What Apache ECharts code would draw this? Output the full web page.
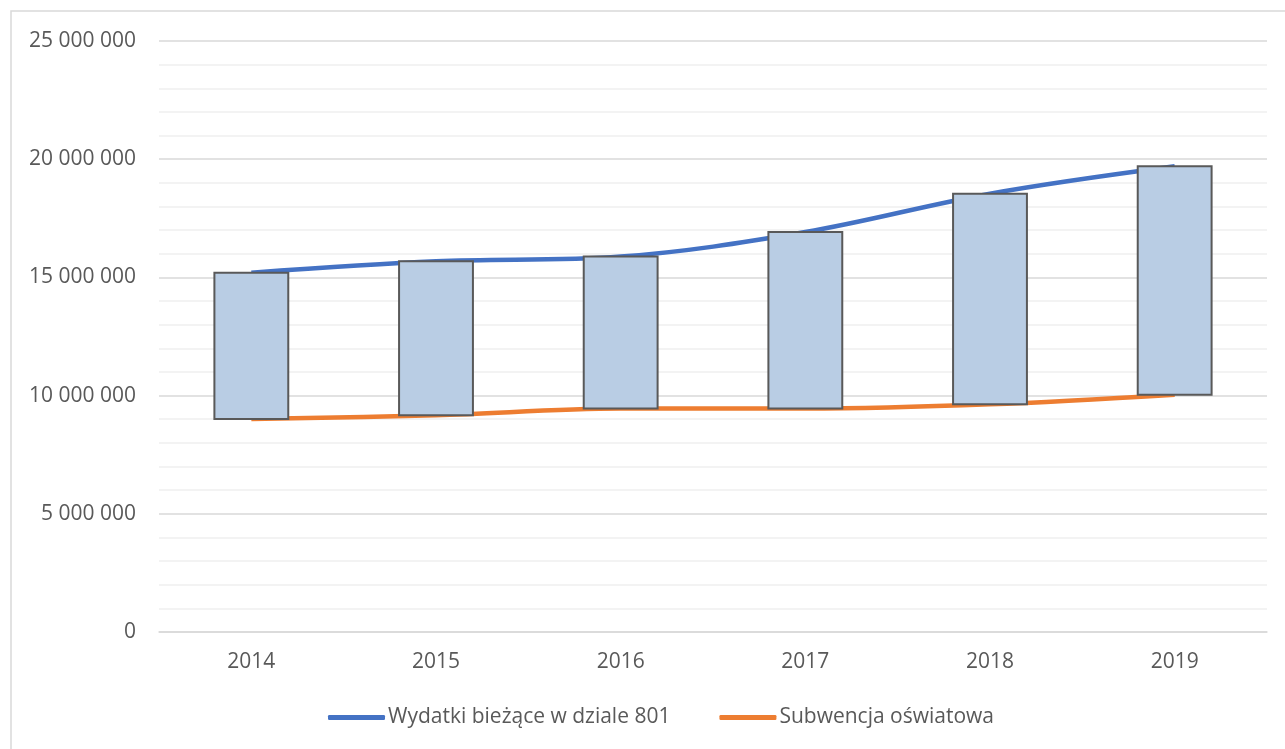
<!DOCTYPE html>
<html>
<head>
<meta charset="utf-8">
<script src="https://cdn.jsdelivr.net/npm/echarts@6/dist/echarts.min.js"></script>
<style>
  html, body { margin: 0; padding: 0; background: #fff; }
  #chart { width: 1285px; height: 749px; }
</style>
</head>
<body>
<div id="chart"></div>
<script>
// Lata budżetowe
const years = ['2014', '2015', '2016', '2017', '2018', '2019'];
// Wydatki bieżące w dziale 801 (zł)
const wydatki = [15200000, 15680000, 15880000, 16920000, 18540000, 19700000];
// Subwencja oświatowa (zł)
const subwencja = [9010000, 9170000, 9450000, 9450000, 9630000, 10040000];
// Podziałka osi wartości
const yMin = 0;
const yMax = 25000000;
const yStep = 5000000;

const textColor = '#595959';
const font = '"Open Sans", sans-serif';

// Słupki różnicy między wydatkami a subwencją
const spanData = years.map((y, i) => [i, subwencja[i], wydatki[i]]);

const chart = echarts.init(document.getElementById('chart'));
chart.setOption({
  animation: false,
  backgroundColor: '#fff',
  textStyle: { fontFamily: font },
  graphic: [{
    type: 'rect',
    shape: { x: 11, y: 11, width: 1300, height: 760 },
    style: { fill: 'none', stroke: '#D9D9D9', lineWidth: 1.5 },
    silent: true
  }],
  grid: { left: 159, right: 18, top: 41, bottom: 117, containLabel: false },
  legend: {
    bottom: 16,
    left: 323,
    itemWidth: 57,
    itemHeight: 5,
    itemGap: 49,
    icon: 'roundRect',
    textStyle: { color: textColor, fontSize: 21, fontFamily: font, padding: [0, 0, 0, -2] },
    data: ['Wydatki bieżące w dziale 801', 'Subwencja oświatowa']
  },
  xAxis: {
    type: 'category',
    data: years,
    boundaryGap: true,
    axisLine: { show: true, lineStyle: { color: '#D9D9D9', width: 1.5 } },
    axisTick: { show: false },
    axisLabel: { color: textColor, fontSize: 21, fontFamily: font, margin: 20 }
  },
  yAxis: {
    type: 'value',
    min: yMin,
    max: yMax,
    interval: yStep,
    axisLine: { show: false },
    axisTick: { show: false },
    axisLabel: {
      color: textColor, fontSize: 21, fontFamily: font, margin: 23,
      formatter: v => String(v).replace(/\B(?=(\d{3})+(?!\d))/g, ' ')
    },
    splitLine: { show: true, lineStyle: { color: '#D9D9D9', width: 1.5 } },
    minorTick: { show: false, splitNumber: 5 },
    minorSplitLine: { show: true, lineStyle: { color: '#EFEFEF', width: 1.5 } }
  },
  series: [
    {
      name: 'Wydatki bieżące w dziale 801',
      type: 'line',
      data: wydatki,
      smooth: 0.35,
      symbol: 'none',
      lineStyle: { color: '#4472C4', width: 4.5, cap: 'butt' },
      itemStyle: { color: '#4472C4' },
      z: 2
    },
    {
      name: 'Subwencja oświatowa',
      type: 'line',
      data: subwencja,
      smooth: 0.35,
      symbol: 'none',
      lineStyle: { color: '#ED7D31', width: 4.5, cap: 'butt' },
      itemStyle: { color: '#ED7D31' },
      z: 2
    },
    {
      name: 'Różnica',
      type: 'custom',
      data: spanData,
      encode: { x: 0, y: [1, 2] },
      z: 3,
      renderItem: function (params, api) {
        const low = api.coord([api.value(0), api.value(1)]);
        const high = api.coord([api.value(0), api.value(2)]);
        const w = api.size([1, 0])[0] * 0.4;
        return {
          type: 'rect',
          shape: { x: low[0] - w / 2, y: high[1], width: w, height: low[1] - high[1] },
          style: { fill: '#B9CDE4', stroke: '#595959', lineWidth: 2 }
        };
      }
    }
  ]
});
</script>
</body>
</html>
